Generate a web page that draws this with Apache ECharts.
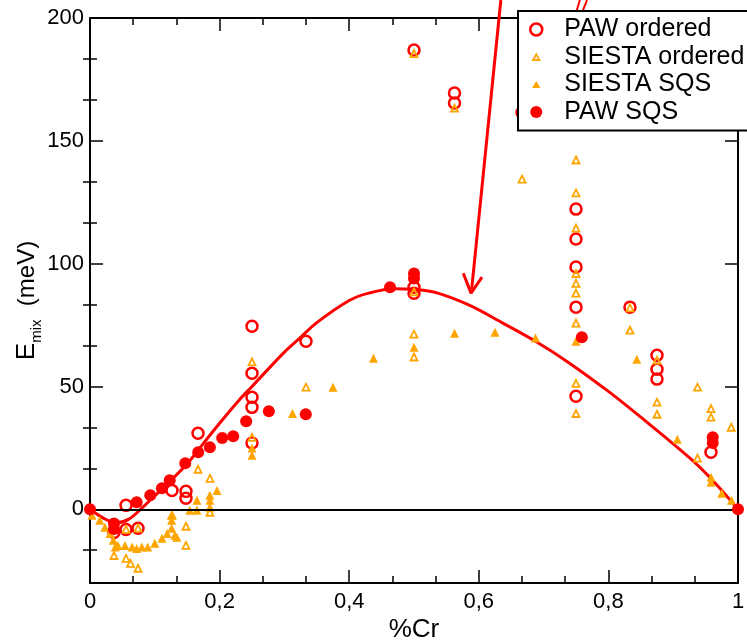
<!DOCTYPE html>
<html><head><meta charset="utf-8">
<script src="https://cdn.jsdelivr.net/npm/echarts@6/dist/echarts.min.js"></script>
<style>html,body{margin:0;padding:0;background:#fff}#c{width:747px;height:643px}</style>
</head><body><div id="c"></div>
<script>
// ---- data (x = fraction Cr, y = E_mix in meV) ----
const pawOrdered = [[0.5,187],[0.5625,169.5],[0.5625,165.4],[0.6667,161.5],[0.75,122.2],[0.75,110],[0.75,98.6],[0.75,82.3],[0.75,46],
  [0.8333,82.3],[0.875,62.7],[0.875,57],[0.875,53],[0.9583,23.2],[0.25,74.5],[0.25,55.4],[0.25,45.6],[0.25,41.5],[0.25,27],
  [0.3333,68.4],[0.5,90.4],[0.5,88],[0.1667,31],[0.1481,7.3],[0.1481,4.5],[0.1265,7.7],[0.0556,1.6],[0.0556,-8.2],[0.0741,-7.7],[0.037,-9.4]];
const siestaOrdered = [[0.5,185.5],[0.5625,163.3],[0.6667,134.4],[0.75,142.2],[0.75,128.8],[0.75,114.5],[0.75,96],[0.75,92],[0.75,88],
  [0.75,75.8],[0.75,51.3],[0.75,39],[0.8333,82],[0.8333,72.9],[0.875,60.7],[0.875,43.6],[0.875,38.7],[0.9375,49.7],[0.9375,20.8],
  [0.9583,41],[0.9583,37.5],[0.9896,33.4],[0.5,71.3],[0.5,62],[0.5,88.5],[0.3333,49.7],[0.25,60],[0.25,29.3],[0.1667,16.3],
  [0.1852,12.6],[0.1481,-6.9],[0.1481,-14.7],[0.1265,-2.4],[0.037,-18.8],[0.0556,-20],[0.0625,-22],[0.0741,-24],[0.0556,-8.2],[0.0741,-7.7],[0.185,-1.2]];
const siestaSQS = [[0.4375,61.5],[0.5,66],[0.5625,71.7],[0.625,72.1],[0.6875,69.7],[0.375,49.7],[0.3125,39],[0.25,25],[0.25,22],
  [0.75,68.4],[0.8438,61.1],[0.9063,28.5],[0.9583,13],[0.9583,11],[0.975,6.5],[0.99,3.7],[1,0.5],
  [0.003,-2.4],[0.015,-4.5],[0.023,-7.3],[0.031,-9.8],[0.036,-12.6],[0.039,-15.3],[0.043,-14.7],[0.054,-14.7],[0.065,-15.3],
  [0.072,-16],[0.08,-15.3],[0.089,-15.3],[0.1,-13.8],[0.111,-11.8],[0.119,-9.8],[0.126,-7.7],[0.126,-4.5],[0.126,-2.4],
  [0.131,-10.6],[0.134,-11.4],[0.165,3.7],[0.165,-0.4],[0.154,-0.4],[0.185,5.7],[0.185,3.7],[0.185,0.8],[0.196,7.7]];
const pawSQS = [[0,0],[1,0],[0.037,-5.8],[0.037,-8],[0.072,2.9],[0.093,5.7],[0.111,8.6],[0.123,11.8],[0.147,18.7],[0.167,23.2],
  [0.185,25.3],[0.204,29],[0.221,29.7],[0.241,35.8],[0.276,39.9],[0.333,38.7],[0.463,90.4],[0.5,96],[0.5,94],[0.759,70],[0.961,29.3],[0.961,27]];
const fitX = [0,0.02,0.04,0.06,0.08,0.10,0.12,0.15,0.165,0.20,0.23,0.25,0.30,0.325,0.35,0.40,0.43,0.47,0.50,0.534,0.586,0.637,0.69,0.74,0.80,0.85,0.925,0.96,1];
const fitY = [0,-3.5,-5.5,-4,0.5,5.5,10.5,18.5,23.5,35,44.4,50,64,70,76,85,88,89.8,89.5,88.2,83,75.8,68,59.5,48,37.5,21,12,0];
const arrowShaft = [[0.634,207.3],[0.589,89.5]];
const arrowHead = [[0.576,96.1],[0.588,88],[0.605,94.5]];
const slash1 = [[0.75,202],[0.756,207.3]];
const slash2 = [[0.759,202],[0.767,207.3]];
const yMajor = [0,50,100,150,200];
const yMinor = [-16.667,16.667,33.333,66.667,83.333,116.667,133.333,166.667,183.333];

const FONT = 'Liberation Sans, Arial, sans-serif';
const RED = '#ff0000', ORANGE = '#ffa500';
const chart = echarts.init(document.getElementById('c'), null, {renderer:'canvas'});
const fitData = fitX.map((x,i)=>[x,fitY[i]]);
const axisLine = {show:true, onZero:false, lineStyle:{color:'#000', width:2}};
function yAx(pos, ticks, len, showLine, labels){
  return {type:'value', min:-30, max:200, position:pos, gridIndex:0,
    axisLine: showLine ? axisLine : {show:false},
    axisTick:{show:true, inside:true, length:len, customValues:ticks, lineStyle:{color:'#000', width:1.5}},
    axisLabel: labels ? {show:true, customValues:ticks, fontSize:22, color:'#000', fontFamily:FONT, margin:6} : {show:false},
    splitLine:{show:false}, minorTick:{show:false}, minorSplitLine:{show:false}};
}
const y0 = yAx('left', yMajor, 13, true, true);
y0.name = '{e|E}{s|mix}{t|  (meV)}';
y0.nameLocation = 'middle'; y0.nameRotate = 90; y0.nameGap = 46; y0.nameMoveOverlap = false;
y0.nameTextStyle = {color:'#000', fontFamily:FONT, rich:{
  e:{fontSize:26, lineHeight:34, verticalAlign:'middle', fontFamily:FONT, color:'#000'},
  s:{fontSize:15, lineHeight:34, verticalAlign:'bottom', fontFamily:FONT, color:'#000'},
  t:{fontSize:24, lineHeight:34, verticalAlign:'middle', fontFamily:FONT, color:'#000'}}};
function xAx(pos, labels){
  return {type:'value', min:0, max:1, interval:0.2, position:pos,
    axisLine: axisLine,
    axisTick:{show:true, inside:true, length:13, lineStyle:{color:'#000', width:1.5}},
    minorTick:{show:true, splitNumber:3, length:7, lineStyle:{color:'#000', width:1.5}},
    axisLabel: labels ? {show:true, fontSize:22, color:'#000', fontFamily:FONT, margin:8,
      formatter: v => String(Math.round(v*10)/10).replace('.', ',')} : {show:false},
    splitLine:{show:false}, minorSplitLine:{show:false}};
}
const x0 = xAx('bottom', true);
x0.name = '%Cr'; x0.nameLocation = 'middle'; x0.nameGap = 34; x0.nameMoveOverlap = false;
x0.nameTextStyle = {fontSize:26, color:'#000', fontFamily:FONT};
const x1 = xAx('top', false);

const deco = (name, data, w) => ({name, type:'line', data, clip:false, symbol:'none', silent:true, z:3,
  lineStyle:{color:RED, width:w, opacity:1}, itemStyle:{color:RED}, animation:false});

chart.setOption({
  animation:false,
  backgroundColor:'#fff',
  textStyle:{fontFamily:FONT},
  grid:{left:90, right:9, top:18, bottom:60, containLabel:false, outerBoundsMode:'none'},
  xAxis:[x0, x1],
  yAxis:[y0, yAx('left', yMinor, 7, false, false), yAx('right', yMajor, 13, true, false), yAx('right', yMinor, 7, false, false)],
  legend:{orient:'vertical', left:518, top:11, padding:[6,10,6,10], itemGap:2.5, itemWidth:30, itemHeight:14,
    backgroundColor:'#fff', borderColor:'#000', borderWidth:2, borderRadius:0, selectedMode:false, z:10,
    textStyle:{fontSize:25, lineHeight:25, color:'#000', fontFamily:FONT},
    data:[
      {name:'PAW ordered', icon:'path://M0,0M30,14M13,7A6,6,0,1,1,1,7A6,6,0,1,1,13,7Z',
        itemStyle:{color:'rgba(0,0,0,0)', borderColor:RED, borderWidth:2.5, opacity:1}},
      {name:'SIESTA ordered', icon:'path://M0,0M30,14M3.8,10L7,4.3L10.2,10Z',
        itemStyle:{color:'rgba(0,0,0,0)', borderColor:ORANGE, borderWidth:1.8, opacity:1}},
      {name:'SIESTA SQS', icon:'path://M0,0M30,14M2.8,10.5L7,3.5L11.2,10.5Z',
        itemStyle:{color:ORANGE, borderWidth:0, opacity:1}},
      {name:'PAW SQS', icon:'path://M0,0M30,14M13,7A6,6,0,1,1,1,7A6,6,0,1,1,13,7Z',
        itemStyle:{color:RED, borderWidth:0, opacity:1}}
    ]},
  series:[
    {name:'fit', type:'line', data:fitData, smooth:0.35, symbol:'none', silent:true, z:2,
      lineStyle:{color:RED, width:3, opacity:1},
      markLine:{silent:true, symbol:['none','none'], label:{show:false}, animation:false,
        lineStyle:{color:'#000', width:2, type:'solid', opacity:1}, data:[{yAxis:0}]}},
    deco('arrowShaft', arrowShaft, 3),
    deco('arrowHead', arrowHead, 3),
    deco('slash1', slash1, 2),
    deco('slash2', slash2, 2),
    {name:'PAW ordered', type:'scatter', data:pawOrdered, symbol:'circle', symbolSize:11, silent:true, z:4,
      itemStyle:{color:'rgba(0,0,0,0)', borderColor:RED, borderWidth:2.5, opacity:1}},
    {name:'SIESTA ordered', type:'scatter', data:siestaOrdered, symbol:'triangle', symbolSize:7, silent:true, z:4,
      itemStyle:{color:'rgba(0,0,0,0)', borderColor:ORANGE, borderWidth:1.8, opacity:1}},
    {name:'SIESTA SQS', type:'scatter', data:siestaSQS, symbol:'triangle', symbolSize:9, silent:true, z:4,
      itemStyle:{color:ORANGE, opacity:1}},
    {name:'PAW SQS', type:'scatter', data:pawSQS, symbol:'circle', symbolSize:12, silent:true, z:5,
      itemStyle:{color:RED, opacity:1}}
  ]
});
</script></body></html>
